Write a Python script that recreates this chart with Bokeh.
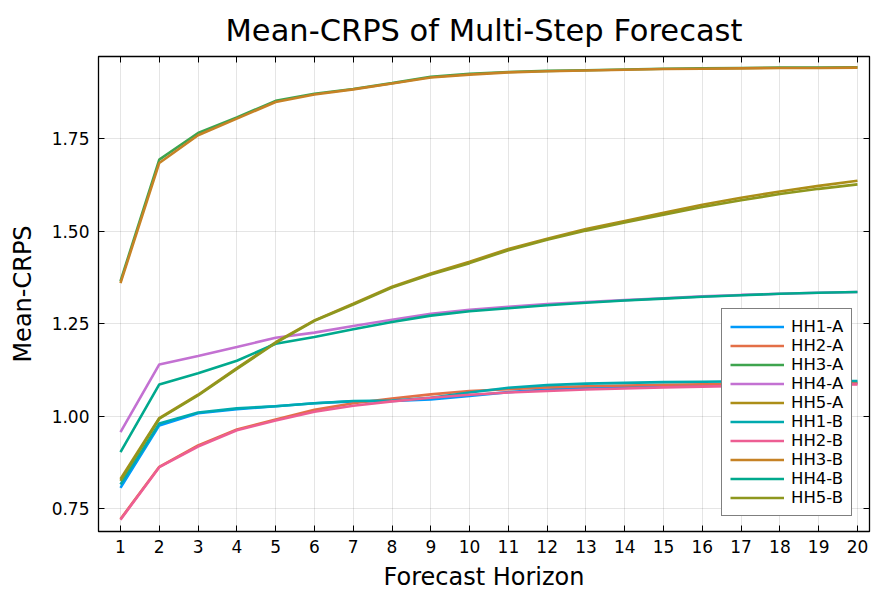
from bokeh.plotting import figure
from bokeh.models import Legend, LegendItem, LinearAxis, FixedTicker, Range1d
from bokeh.embed import file_html
from bokeh.resources import INLINE

horizon = list(range(1, 21))

hh1_a = [0.806, 0.975, 1.008, 1.019, 1.027, 1.035, 1.040, 1.041, 1.045, 1.055, 1.065, 1.072, 1.077, 1.080, 1.082, 1.084, 1.086, 1.087, 1.088, 1.089]
hh2_a = [0.722, 0.863, 0.921, 0.964, 0.991, 1.017, 1.035, 1.048, 1.059, 1.068, 1.073, 1.078, 1.081, 1.083, 1.085, 1.086, 1.087, 1.088, 1.089, 1.090]
hh3_a = [1.365, 1.694, 1.766, 1.808, 1.853, 1.872, 1.885, 1.901, 1.918, 1.926, 1.931, 1.934, 1.936, 1.938, 1.940, 1.941, 1.942, 1.943, 1.943, 1.944]
hh4_a = [0.957, 1.140, 1.163, 1.187, 1.212, 1.226, 1.244, 1.261, 1.277, 1.288, 1.296, 1.303, 1.309, 1.314, 1.319, 1.324, 1.328, 1.331, 1.334, 1.336]
hh5_a = [0.830, 0.995, 1.058, 1.130, 1.200, 1.259, 1.304, 1.350, 1.386, 1.418, 1.452, 1.480, 1.506, 1.528, 1.550, 1.572, 1.591, 1.608, 1.623, 1.637]
hh1_b = [0.815, 0.980, 1.010, 1.021, 1.027, 1.035, 1.041, 1.042, 1.050, 1.064, 1.077, 1.084, 1.088, 1.090, 1.092, 1.093, 1.094, 1.094, 1.095, 1.095]
hh2_b = [0.720, 0.862, 0.918, 0.962, 0.988, 1.012, 1.028, 1.040, 1.050, 1.058, 1.064, 1.068, 1.072, 1.075, 1.078, 1.080, 1.082, 1.084, 1.085, 1.086]
hh3_b = [1.360, 1.685, 1.760, 1.805, 1.850, 1.870, 1.884, 1.900, 1.916, 1.924, 1.930, 1.933, 1.935, 1.937, 1.939, 1.940, 1.941, 1.942, 1.942, 1.943]
hh4_b = [0.903, 1.086, 1.116, 1.150, 1.196, 1.214, 1.235, 1.255, 1.272, 1.284, 1.292, 1.300, 1.307, 1.313, 1.318, 1.323, 1.327, 1.331, 1.334, 1.336]
hh5_b = [0.825, 0.993, 1.056, 1.128, 1.198, 1.258, 1.302, 1.348, 1.383, 1.414, 1.449, 1.477, 1.502, 1.524, 1.545, 1.566, 1.584, 1.601, 1.615, 1.627]

series_names = ["HH1-A", "HH2-A", "HH3-A", "HH4-A", "HH5-A", "HH1-B", "HH2-B", "HH3-B", "HH4-B", "HH5-B"]
series_values = [hh1_a, hh2_a, hh3_a, hh4_a, hh5_a, hh1_b, hh2_b, hh3_b, hh4_b, hh5_b]
colors = ["#009AFA", "#E36F47", "#3EA44E", "#C371D2", "#AC8E18",
          "#00AAAE", "#ED5E93", "#C68225", "#00A98D", "#8E971E"]

y_ticks = [0.75, 1.00, 1.25, 1.50, 1.75]
title_text = "Mean-CRPS of Multi-Step Forecast"

FONT = "DejaVu Sans"

p = figure(width=871, height=593, output_backend="svg", toolbar_location=None,
           x_range=Range1d(0.433, 20.31), y_range=Range1d(0.688, 1.973),
           min_border_left=98, min_border_right=2, min_border_top=56, min_border_bottom=59)

p.title.text = title_text
p.title.text_font = FONT
p.title.text_font_size = "30.5px"
p.title.text_font_style = "normal"
p.title.align = "center"
p.title.text_color = "#000000"
p.title.standoff = 18

p.background_fill_color = "white"
p.border_fill_color = "white"
p.outline_line_color = "black"
p.outline_line_width = 1.3

for ax in (p.xaxis[0], p.yaxis[0]):
    ax.major_tick_in = 6
    ax.major_tick_out = 0
    ax.minor_tick_line_color = None
    ax.axis_line_color = "black"
    ax.major_tick_line_color = "black"
    ax.major_label_text_font = FONT
    ax.major_label_text_font_size = "17px"
    ax.major_label_text_color = "#000000"
    ax.axis_label_text_font = FONT
    ax.axis_label_text_font_size = "24px"
    ax.axis_label_text_font_style = "normal"
    ax.axis_label_text_color = "#000000"

p.xaxis[0].ticker = FixedTicker(ticks=horizon)
p.yaxis[0].ticker = FixedTicker(ticks=y_ticks)
p.yaxis[0].major_label_overrides = {t: f"{t:.2f}" for t in y_ticks}
p.xaxis[0].axis_label = "Forecast Horizon"
p.yaxis[0].axis_label = "Mean-CRPS"
p.xaxis[0].major_label_standoff = 8
p.yaxis[0].major_label_standoff = 9
p.xaxis[0].axis_label_standoff = 7
p.yaxis[0].axis_label_standoff = 12

top_ax = LinearAxis(ticker=FixedTicker(ticks=horizon),
                    major_label_overrides={t: "" for t in horizon})
right_ax = LinearAxis(ticker=FixedTicker(ticks=y_ticks),
                      major_label_overrides={t: "" for t in y_ticks})
for ax in (top_ax, right_ax):
    ax.major_tick_in = 6
    ax.major_tick_out = 0
    ax.minor_tick_line_color = None
    ax.axis_line_color = "black"
    ax.major_label_text_font_size = "1px"
    ax.major_label_standoff = 0
p.add_layout(top_ax, "above")
p.add_layout(right_ax, "right")

p.xgrid.ticker = FixedTicker(ticks=horizon)
p.ygrid.ticker = FixedTicker(ticks=y_ticks)
p.grid.grid_line_color = "black"
p.grid.grid_line_alpha = 0.1
p.grid.grid_line_width = 1

items = []
for name, vals, c in zip(series_names, series_values, colors):
    r = p.line(horizon, vals, line_color=c, line_width=2.6)
    items.append(LegendItem(label=name, renderers=[r]))

legend = Legend(items=items, location=(623, 15))
legend.label_text_font = FONT
legend.label_text_font_size = "16.5px"
legend.label_text_color = "#000000"
legend.glyph_width = 54
legend.glyph_height = 15
legend.label_height = 15
legend.label_standoff = 7
legend.spacing = 0
legend.padding = 8
legend.margin = 0
legend.border_line_color = "black"
legend.border_line_width = 1.3
legend.background_fill_alpha = 1.0
p.add_layout(legend, "center")

open("out.html", "w").write(file_html(p, INLINE))
